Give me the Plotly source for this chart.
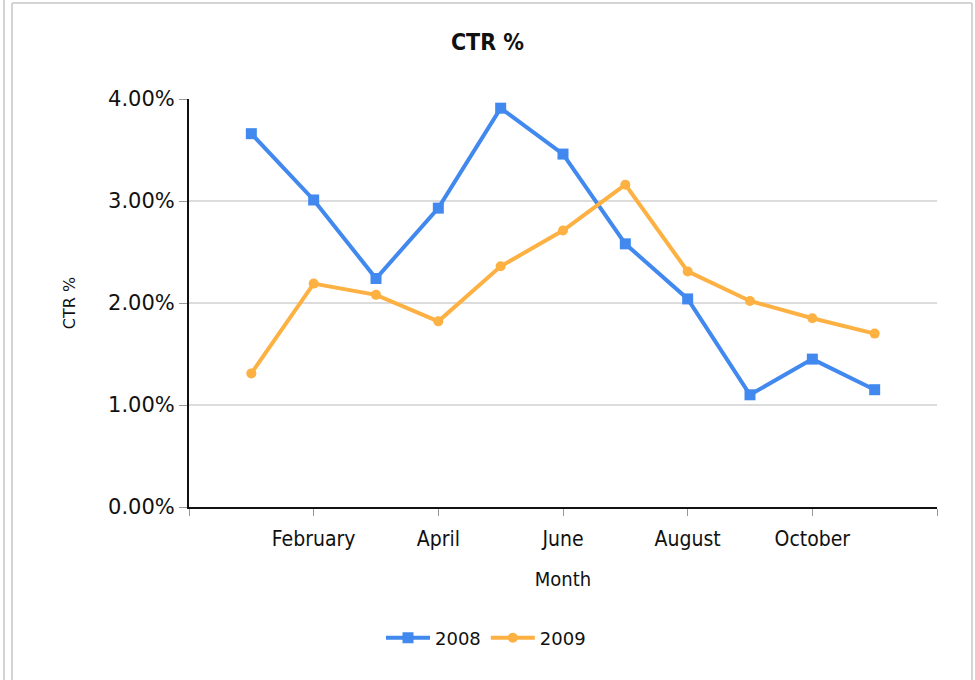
import plotly.graph_objects as go

months = ["January", "February", "March", "April", "May", "June", "July",
          "August", "September", "October", "November"]
ctr_2008 = [3.66, 3.01, 2.24, 2.93, 3.91, 3.46, 2.58, 2.04, 1.10, 1.45, 1.15]
ctr_2009 = [1.31, 2.19, 2.08, 1.82, 2.36, 2.71, 3.16, 2.31, 2.02, 1.85, 1.70]
x_tick_labels = ["", "February", "April", "June", "August", "October", ""]
y_tick_values = [0, 1, 2, 3, 4]
y_tick_labels = ["0.00%", "1.00%", "2.00%", "3.00%", "4.00%"]

xpos = list(range(1, len(months) + 1))
tick_pos = list(range(0, len(months) + 2, 2))

BLUE = "#4189EE"
ORANGE = "#FDB142"

fig = go.Figure()
fig.add_trace(go.Scatter(
    x=xpos, y=ctr_2008, name="2008", mode="lines+markers",
    line=dict(color=BLUE, width=4),
    marker=dict(symbol="square", size=11, color=BLUE),
    customdata=months, hovertemplate="%{customdata}: %{y:.2f}%<extra>2008</extra>"))
fig.add_trace(go.Scatter(
    x=xpos, y=ctr_2009, name="2009", mode="lines+markers",
    line=dict(color=ORANGE, width=4),
    marker=dict(symbol="circle", size=10, color=ORANGE),
    customdata=months, hovertemplate="%{customdata}: %{y:.2f}%<extra>2009</extra>"))

W, H = 975, 680
L, R, T, B = 189, 38, 99, 173
pw, ph = W - L - R, H - T - B

def px(x):
    return (x - L) / pw

def py(y):
    return (H - B - y) / ph

FRAME = "#d4d4d4"
def vline(x, y0, y1):
    return dict(type="line", xref="paper", yref="paper", x0=px(x), x1=px(x),
                y0=py(y0), y1=py(y1), line=dict(color=FRAME, width=2), layer="below")

def hline(y, x0, x1):
    return dict(type="line", xref="paper", yref="paper", x0=px(x0), x1=px(x1),
                y0=py(y), y1=py(y), line=dict(color=FRAME, width=2), layer="below")

fig.update_layout(
    width=W, height=H, autosize=False,
    margin=dict(l=L, r=R, t=T, b=B),
    paper_bgcolor="white", plot_bgcolor="white",
    font=dict(family="DejaVu Sans", color="#111"),
    title=dict(text="<b>CTR %</b>", x=0.5, xref="container", xanchor="center",
               y=1 - 42 / H, yref="container", yanchor="middle",
               font=dict(size=23, family="DejaVu Sans Condensed", color="#111")),
    xaxis=dict(range=[0, len(months) + 1], tickmode="array", tickvals=tick_pos,
               ticktext=x_tick_labels, showgrid=False, zeroline=False,
               showline=True, linecolor="#111", linewidth=2,
               ticks="outside", ticklen=7, tickcolor="#999", tickwidth=1,
               ticklabelstandoff=5,
               tickfont=dict(size=21, family="DejaVu Sans Condensed"),
               title=dict(text="Month", standoff=22,
                          font=dict(size=20, family="DejaVu Sans Condensed"))),
    yaxis=dict(range=[0, 4], tickmode="array", tickvals=y_tick_values,
               ticktext=y_tick_labels, showgrid=True,
               gridcolor="#dcdcdc", gridwidth=2, zeroline=False,
               showline=True, linecolor="#111", linewidth=2,
               ticks="outside", ticklen=8, tickcolor="#999", tickwidth=1,
               tickfont=dict(size=21, family="DejaVu Sans"),
               title=dict(text="CTR %", standoff=28,
                          font=dict(size=16, family="DejaVu Sans"))),
    legend=dict(orientation="h", x=px(486), xanchor="center", y=py(638),
                yanchor="middle", font=dict(size=18, family="DejaVu Sans"),
                itemwidth=44),
    shapes=[
        vline(4, 680, 0),
        vline(12, 680, 3),
        hline(3, 12, 972),
        vline(972, 680, 3),
    ],
    showlegend=True,
)

fig.write_html("out.html", config={"displayModeBar": False},
               post_script="document.body.style.margin='0';")
